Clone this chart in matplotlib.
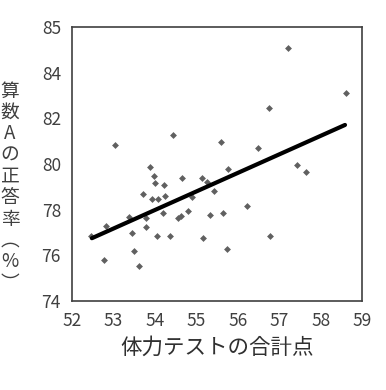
import matplotlib.pyplot as plt

plt.rcParams["font.family"] = ["Noto Sans CJK JP", "DejaVu Sans"]

# test score total (x) vs. correct answer rate of arithmetic A (y)
score = [53.05, 54.43, 55.60, 56.50, 56.76, 57.22, 58.61, 57.44, 57.66, 56.23,
         56.78, 53.89, 53.97, 54.01, 54.23, 53.71, 53.93, 54.08, 54.25, 54.20,
         53.38, 53.79, 52.81, 53.79, 53.46, 54.05, 54.37, 52.45, 53.50, 52.78,
         53.61, 54.65, 55.13, 55.27, 55.77, 55.42, 54.89, 54.57, 54.64, 54.80,
         55.33, 55.65, 55.17, 55.73]
rate = [80.83, 81.27, 80.98, 80.70, 82.44, 85.07, 83.10, 79.96, 79.64, 78.16,
        76.85, 79.89, 79.48, 79.16, 79.09, 78.67, 78.45, 78.45, 78.58, 77.87,
        77.69, 77.62, 77.29, 77.25, 76.99, 76.85, 76.85, 76.85, 76.20, 75.78,
        75.53, 79.37, 79.37, 79.23, 79.77, 78.83, 78.57, 77.62, 77.72, 77.96,
        77.77, 77.87, 76.77, 76.26]

# trend line end points
trend_x = [52.48, 58.59]
trend_y = [76.75, 81.71]

x_ticks = [52, 53, 54, 55, 56, 57, 58, 59]
y_ticks = [74, 76, 78, 80, 82, 84, 86]
y_tick_labels = ["74", "76", "78", "80", "82", "84", "85"]

fig = plt.figure(figsize=(3.86, 3.90), dpi=100)
ax = fig.add_axes([0.1865, 0.2282, 0.7513, 0.7026])

ax.plot(score, rate, "D", color="#606060", markersize=3.5, markeredgewidth=0)
ax.plot(trend_x, trend_y, color="black", linewidth=3, solid_capstyle="round")

ax.set_xlim(52, 59)
ax.set_ylim(74, 86)
ax.set_xticks(x_ticks)
ax.set_yticks(y_ticks)
ax.set_yticklabels(y_tick_labels)
ax.tick_params(length=0, labelsize=12.5, labelcolor="#404040")
ax.tick_params(axis="x", pad=8)
ax.tick_params(axis="y", pad=8)

for s in ax.spines.values():
    s.set_color("#404040")
    s.set_linewidth(1.2)

ax.set_xlabel("体力テストの合計点", fontsize=15.5, color="#303030", labelpad=5)

fig.text(0.026, 0.52, "算\n数\nA\nの\n正\n答\n率\n︵\n%\n︶", fontsize=13.5,
         color="#404040", ha="center", va="center", linespacing=1.02,
         multialignment="center")

fig.savefig("out.png")
